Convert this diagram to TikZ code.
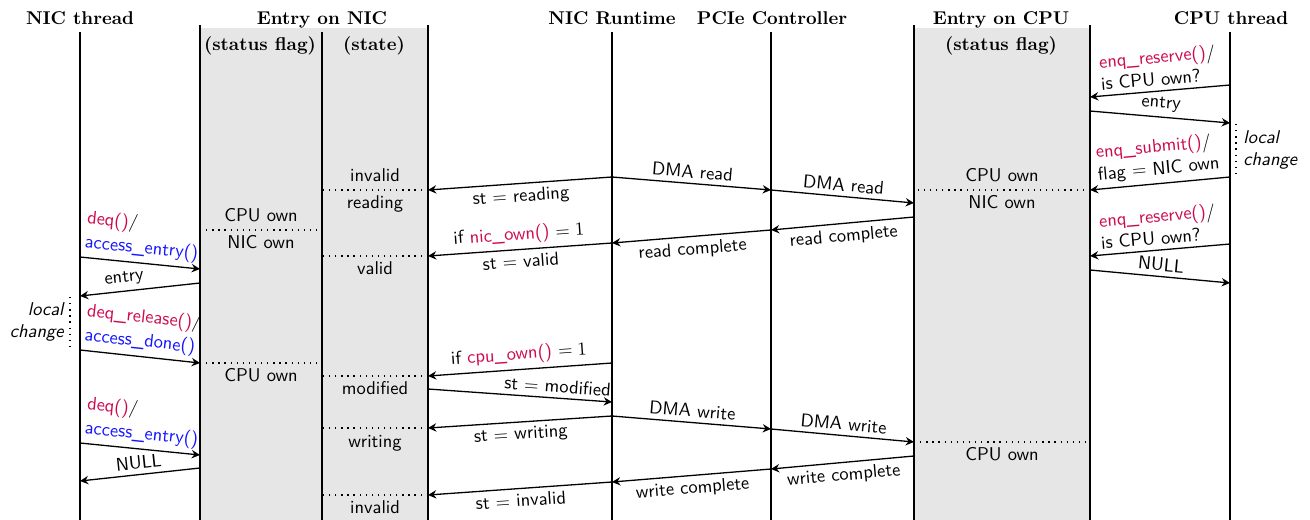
\documentclass[tikz,border=0pt]{standalone}
\usetikzlibrary{arrows.meta}
\definecolor{fnred}{RGB}{205,10,80}
\definecolor{fnblue}{RGB}{20,20,255}
\definecolor{boxgray}{RGB}{230,230,230}
\begin{document}
\begin{tikzpicture}[x=0.5405pt,y=-0.5405pt,
  font=\sffamily,
  life/.style={line width=1pt},
  msg/.style={line width=0.7pt,-{Stealth[length=4.5pt,width=4.5pt,inset=1.5pt]}},
  sep/.style={line width=0.7pt, dash pattern=on 0.7pt off 2.6pt},
  lbl/.style={sloped, inner sep=2.5pt},
  head/.style={font=\rmfamily\bfseries, anchor=base, inner sep=0pt},
  cell/.style={text height=7pt, text depth=2pt, inner sep=0pt},
  note/.style={font=\sffamily\itshape, inner sep=0pt},
]
\useasboundingbox (0,0) rectangle (1310,520);
% shaded entry columns
\fill[boxgray] (200,28) rectangle (428,520);
\fill[boxgray] (914,28) rectangle (1090,520);

% headers
\node[head] (hNT) at (80,24) {NIC thread};
\node[head] (hEN) at (322,24) {Entry on NIC};
\node[head] (hSF1) at (260,50) {(status flag)};
\node[head] (hST) at (374,50) {(state)};
\node[head] (hRT) at (612,24) {NIC Runtime};
\node[head] (hPC) at (772,24) {PCIe Controller};
\node[head] (hEC) at (1001,24) {Entry on CPU};
\node[head] (hSF2) at (1001,50) {(status flag)};
\node[head] (hCT) at (1231,24) {CPU thread};

% lifelines
\coordinate (ntT) at (80,32);    \coordinate (ntB) at (80,520);
\coordinate (nlT) at (200,25);   \coordinate (nlB) at (200,520);
\coordinate (nmT) at (322,32);   \coordinate (nmB) at (322,520);
\coordinate (nrT) at (428,25);   \coordinate (nrB) at (428,520);
\coordinate (rtT) at (612,32);   \coordinate (rtB) at (612,520);
\coordinate (pcT) at (771,32);   \coordinate (pcB) at (771,520);
\coordinate (clT) at (914,25);   \coordinate (clB) at (914,520);
\coordinate (crT) at (1090,25);  \coordinate (crB) at (1090,520);
\coordinate (ctT) at (1230,32);  \coordinate (ctB) at (1230,520);
\foreach \a/\b in {ntT/ntB,nlT/nlB,nmT/nmB,nrT/nrB,rtT/rtB,pcT/pcB,clT/clB,crT/crB,ctT/ctB}
  \draw[life] (\a) -- (\b);

% event points
\coordinate (c1) at (1230,85);  \coordinate (e1) at (1090,97);
\coordinate (e2) at (1090,111); \coordinate (c2) at (1230,123);
\coordinate (c3) at (1230,177); \coordinate (e3) at (1090,190);
\coordinate (c4) at (1230,244); \coordinate (e4) at (1090,256);
\coordinate (e5) at (1090,270); \coordinate (c5) at (1230,283);

\coordinate (r1) at (612,177); \coordinate (p1) at (771,190);
\coordinate (e6) at (914,203); \coordinate (s1) at (428,190);
\coordinate (e7) at (914,217); \coordinate (p2) at (771,230);
\coordinate (r2) at (612,243); \coordinate (s2) at (428,256);

\coordinate (t1) at (80,257);  \coordinate (f1) at (200,269);
\coordinate (f2) at (200,283); \coordinate (t2) at (80,296);
\coordinate (t3) at (80,350);  \coordinate (f3) at (200,363);
\coordinate (r3) at (612,363); \coordinate (s3) at (428,376);
\coordinate (s4) at (428,389); \coordinate (r4) at (612,402);
\coordinate (r5) at (612,416); \coordinate (p3) at (771,429);
\coordinate (e8) at (914,442); \coordinate (s5) at (428,428);
\coordinate (t4) at (80,443);  \coordinate (f4) at (200,455);
\coordinate (f5) at (200,468); \coordinate (t5) at (80,481);
\coordinate (e9) at (914,456); \coordinate (p4) at (771,469);
\coordinate (r6) at (612,482); \coordinate (s6) at (428,495);

% dotted state separators
\coordinate (m1) at (322,190); \coordinate (m2) at (322,256);
\coordinate (m3) at (322,376); \coordinate (m5) at (322,428);
\coordinate (m6) at (322,495);
\coordinate (g1) at (200,230); \coordinate (g1r) at (322,230);
\coordinate (g3) at (322,363);
\coordinate (k3) at (914,190); \coordinate (k8) at (1090,442);
\foreach \a/\b in {s1/m1,s2/m2,s3/m3,s5/m5,s6/m6,g1/g1r,f3/g3,e3/k3,e8/k8}
  \draw[sep] (\a) -- (\b);

% cell labels
\node[cell] (st1) at (375,177) {invalid};
\node[cell] (st2) at (375,204) {reading};
\node[cell] (st3) at (375,270) {valid};
\node[cell] (st4) at (375,390) {modified};
\node[cell] (st5) at (375,443) {writing};
\node[cell] (st6) at (375,509) {invalid};
\node[cell] (fl1) at (261,217) {CPU own};
\node[cell] (fl2) at (261,244) {NIC own};
\node[cell] (fl3) at (261,377) {CPU own};
\node[cell] (cf1) at (1002,177) {CPU own};
\node[cell] (cf2) at (1002,204) {NIC own};
\node[cell] (cf3) at (1002,456) {CPU own};

% CPU thread messages
\draw[msg] (c1) -- node[lbl, above, align=left] {\textcolor{fnred}{enq\_reserve()}/\\is CPU own?} (e1);
\draw[msg] (e2) -- node[lbl, above] {entry} (c2);
\draw[msg] (c3) -- node[lbl, above, align=left] {\textcolor{fnred}{enq\_submit()}/\\flag $=$ NIC own} (e3);
\draw[msg] (c4) -- node[lbl, above, align=left] {\textcolor{fnred}{enq\_reserve()}/\\is CPU own?} (e4);
\draw[msg] (e5) -- node[lbl, above] {NULL} (c5);

% local change marks
\coordinate (lcA) at (1236,124); \coordinate (lcB) at (1236,174);
\draw[sep] (lcA) -- (lcB);
\node[note, anchor=west, align=left] (lc1) at (1243,150) {local\\change};
\coordinate (lnA) at (70,297); \coordinate (lnB) at (70,347);
\draw[sep] (lnA) -- (lnB);
\node[note, anchor=east, align=right] (lc2) at (64,322) {local\\change};

% DMA read
\draw[msg] (r1) -- node[lbl, above] {DMA read} (p1);
\draw[msg] (p1) -- node[lbl, above] {DMA read} (e6);
\draw[msg] (r1) -- node[lbl, below] {st $=$ reading} (s1);
\draw[msg] (e7) -- node[lbl, below] {read complete} (p2);
\draw[msg] (p2) -- node[lbl, below] {read complete} (r2);
\draw[msg] (r2) -- node[lbl, above] {if \textcolor{fnred}{nic\_own()} $=1$}
                   node[lbl, below] {st $=$ valid} (s2);

% NIC thread messages
\draw[msg] (t1) -- node[lbl, above, align=left] {\textcolor{fnred}{deq()}/\\[1pt]\textcolor{fnblue}{access\_entry()}} (f1);
\draw[msg] (f2) -- node[lbl, above, pos=0.62] {entry} (t2);
\draw[msg] (t3) -- node[lbl, above, align=left] {\textcolor{fnred}{deq\_release()}/\\[1pt]\textcolor{fnblue}{access\_done()}} (f3);
\draw[msg] (r3) -- node[lbl, above] {if \textcolor{fnred}{cpu\_own()} $=1$} (s3);
\draw[msg] (s4) -- node[lbl, above, pos=0.7] {st $=$ modified} (r4);

% DMA write
\draw[msg] (r5) -- node[lbl, above] {DMA write} (p3);
\draw[msg] (p3) -- node[lbl, above] {DMA write} (e8);
\draw[msg] (r5) -- node[lbl, below] {st $=$ writing} (s5);
\draw[msg] (t4) -- node[lbl, above, align=left] {\textcolor{fnred}{deq()}/\\[1pt]\textcolor{fnblue}{access\_entry()}} (f4);
\draw[msg] (f5) -- node[lbl, above] {NULL} (t5);
\draw[msg] (e9) -- node[lbl, below] {write complete} (p4);
\draw[msg] (p4) -- node[lbl, below] {write complete} (r6);
\draw[msg] (r6) -- node[lbl, below] {st $=$ invalid} (s6);
\end{tikzpicture}
\end{document}
